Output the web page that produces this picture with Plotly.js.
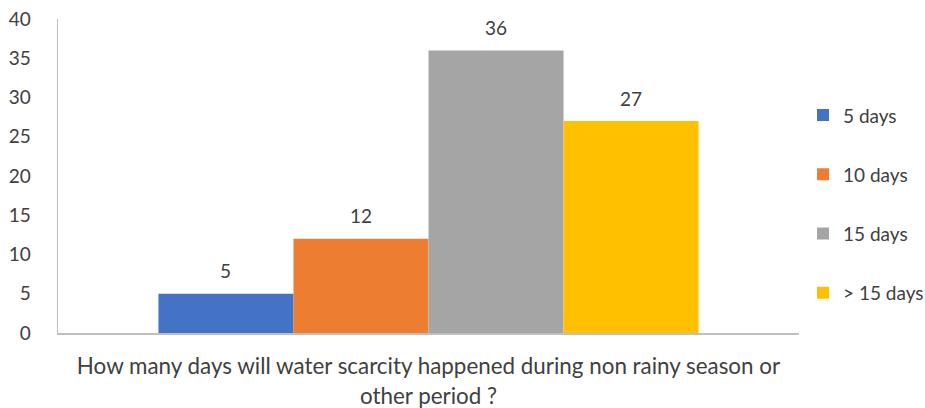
<!DOCTYPE html>
<html>
<head>
<meta charset="utf-8">
<script src="https://cdn.plot.ly/plotly-3.0.1.min.js"></script>
<style>
  html, body { margin: 0; padding: 0; background: #ffffff; }
  #chart { width: 925px; height: 408px; }
</style>
</head>
<body>
<div id="chart"></div>
<script>
// Survey question shown under the single category group
const question = "How many days will water scarcity happened during non rainy season or<br>other period ?";

// Answer options and respondent counts
const seriesNames = ["5 days", "10 days", "15 days", "> 15 days"];
const seriesValues = [5, 12, 36, 27];
const seriesColors = ["#4472C4", "#ED7D31", "#A5A5A5", "#FFC000"];

// Y-axis ticks
const yTicks = [0, 5, 10, 15, 20, 25, 30, 35, 40];

const FONT = "Lato, 'Open Sans', sans-serif";
const TEXT_COLOR = "#404040";

// One bar per answer, placed side by side at consecutive positions
const positions = seriesNames.map((_, i) => i);
const groupCenter = (positions.length - 1) / 2;

const traces = seriesNames.map((name, i) => ({
  type: "bar",
  name: name,
  x: [positions[i]],
  y: [seriesValues[i]],
  width: 1,
  marker: { color: seriesColors[i], line: { width: 0 } },
  legendgroup: "g" + i,
  hoverinfo: "name+y"
}));

// Value labels above each bar
const annotations = seriesValues.map((v, i) => ({
  x: positions[i],
  y: v,
  xref: "x",
  yref: "y",
  text: String(v),
  showarrow: false,
  yanchor: "middle",
  yshift: 23,
  font: { family: FONT, size: 19, color: TEXT_COLOR }
}));

const halfSpan = 2.744;

const layout = {
  width: 925,
  height: 408,
  margin: { l: 58, r: 126, t: 18.5, b: 74.5, pad: 0 },
  paper_bgcolor: "#ffffff",
  plot_bgcolor: "#ffffff",
  barmode: "overlay",
  font: { family: FONT, size: 18, color: TEXT_COLOR },
  showlegend: true,
  legend: {
    xref: "container",
    yref: "paper",
    x: 803 / 925,
    xanchor: "left",
    y: (333.5 - 96) / 315,
    yanchor: "top",
    traceorder: "grouped",
    tracegroupgap: 31.5,
    font: { family: FONT, size: 19, color: TEXT_COLOR },
    bgcolor: "rgba(0,0,0,0)"
  },
  xaxis: {
    range: [groupCenter - halfSpan, groupCenter + halfSpan],
    tickmode: "array",
    tickvals: [groupCenter],
    ticktext: [question],
    ticks: "",
    ticklabelstandoff: 13,
    showgrid: false,
    zeroline: false,
    showline: true,
    linecolor: "#BFBFBF",
    linewidth: 1.5,
    tickfont: { family: FONT, size: 22.4, color: TEXT_COLOR },
    fixedrange: true
  },
  yaxis: {
    range: [0, 40],
    tickmode: "array",
    tickvals: yTicks,
    ticktext: yTicks.map(String),
    ticks: "",
    ticklabelstandoff: 22,
    showgrid: false,
    zeroline: false,
    showline: true,
    linecolor: "#BFBFBF",
    linewidth: 1.5,
    tickfont: { family: FONT, size: 19, color: TEXT_COLOR },
    fixedrange: true
  },
  annotations: annotations
};

Plotly.newPlot("chart", traces, layout, { displayModeBar: false, staticPlot: true });
</script>
</body>
</html>
